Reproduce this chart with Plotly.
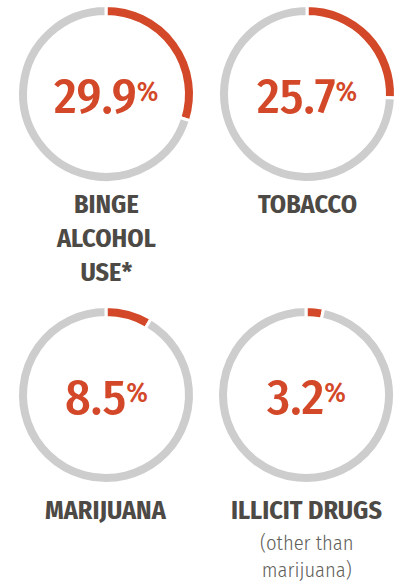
import plotly.graph_objects as go

categories = ["BINGE<br>ALCOHOL<br>USE*", "TOBACCO", "MARIJUANA", "ILLICIT DRUGS"]
subtitles = ["", "", "", "(other than<br>marijuana)"]
values = [29.9, 25.7, 8.5, 3.2]
value_labels = ["29.9", "25.7", "8.5", "3.2"]

W, H = 400, 585
ORANGE = "#D34828"
GRAY = "#CDCDCD"
DARK = "#4D4A46"
FONT = "Fira Sans Condensed, Roboto Condensed, Open Sans Condensed, sans-serif"

# donut centers (px) and radius
centers = [(106, 94), (307, 94), (106, 395), (306, 395)]
R = 88.5
label_top = [187, 187, 493, 493]

fig = go.Figure()
for i, (cx, cy) in enumerate(centers):
    v = values[i]
    fig.add_trace(go.Pie(
        values=[v, 100 - v],
        marker=dict(colors=[ORANGE, GRAY], line=dict(color="white", width=3)),
        hole=(R - 11) / R,
        sort=False, direction="clockwise", rotation=0,
        textinfo="none", hoverinfo="skip", showlegend=False,
        domain=dict(x=[(cx - R) / W, (cx + R) / W], y=[1 - (cy + R) / H, 1 - (cy - R) / H]),
    ))
    fig.add_annotation(
        x=cx / W, y=1 - (cy + 2) / H, xref="paper", yref="paper", showarrow=False,
        text=(f"<span style='font-size:50px'>{value_labels[i]}</span>"
              f"<sup><span style='font-size:28px'>%</span></sup>"),
        font=dict(family=FONT, size=28, color=ORANGE, weight=500),
        xanchor="center", yanchor="middle",
    )
    fig.add_annotation(
        x=cx / W, y=1 - label_top[i] / H, xref="paper", yref="paper", showarrow=False,
        text=categories[i], font=dict(family=FONT, size=26, color=DARK, weight=700),
        xanchor="center", yanchor="top", align="center",
    )
    if subtitles[i]:
        fig.add_annotation(
            x=cx / W, y=1 - 529 / H, xref="paper", yref="paper", showarrow=False,
            text=subtitles[i], font=dict(family=FONT, size=20.5, color="#625F5B", weight=300),
            xanchor="center", yanchor="top", align="center",
        )

fig.update_layout(width=W, height=H, margin=dict(l=0, r=0, t=0, b=0),
                  paper_bgcolor="white", plot_bgcolor="white")
fig.write_html("out.html")
